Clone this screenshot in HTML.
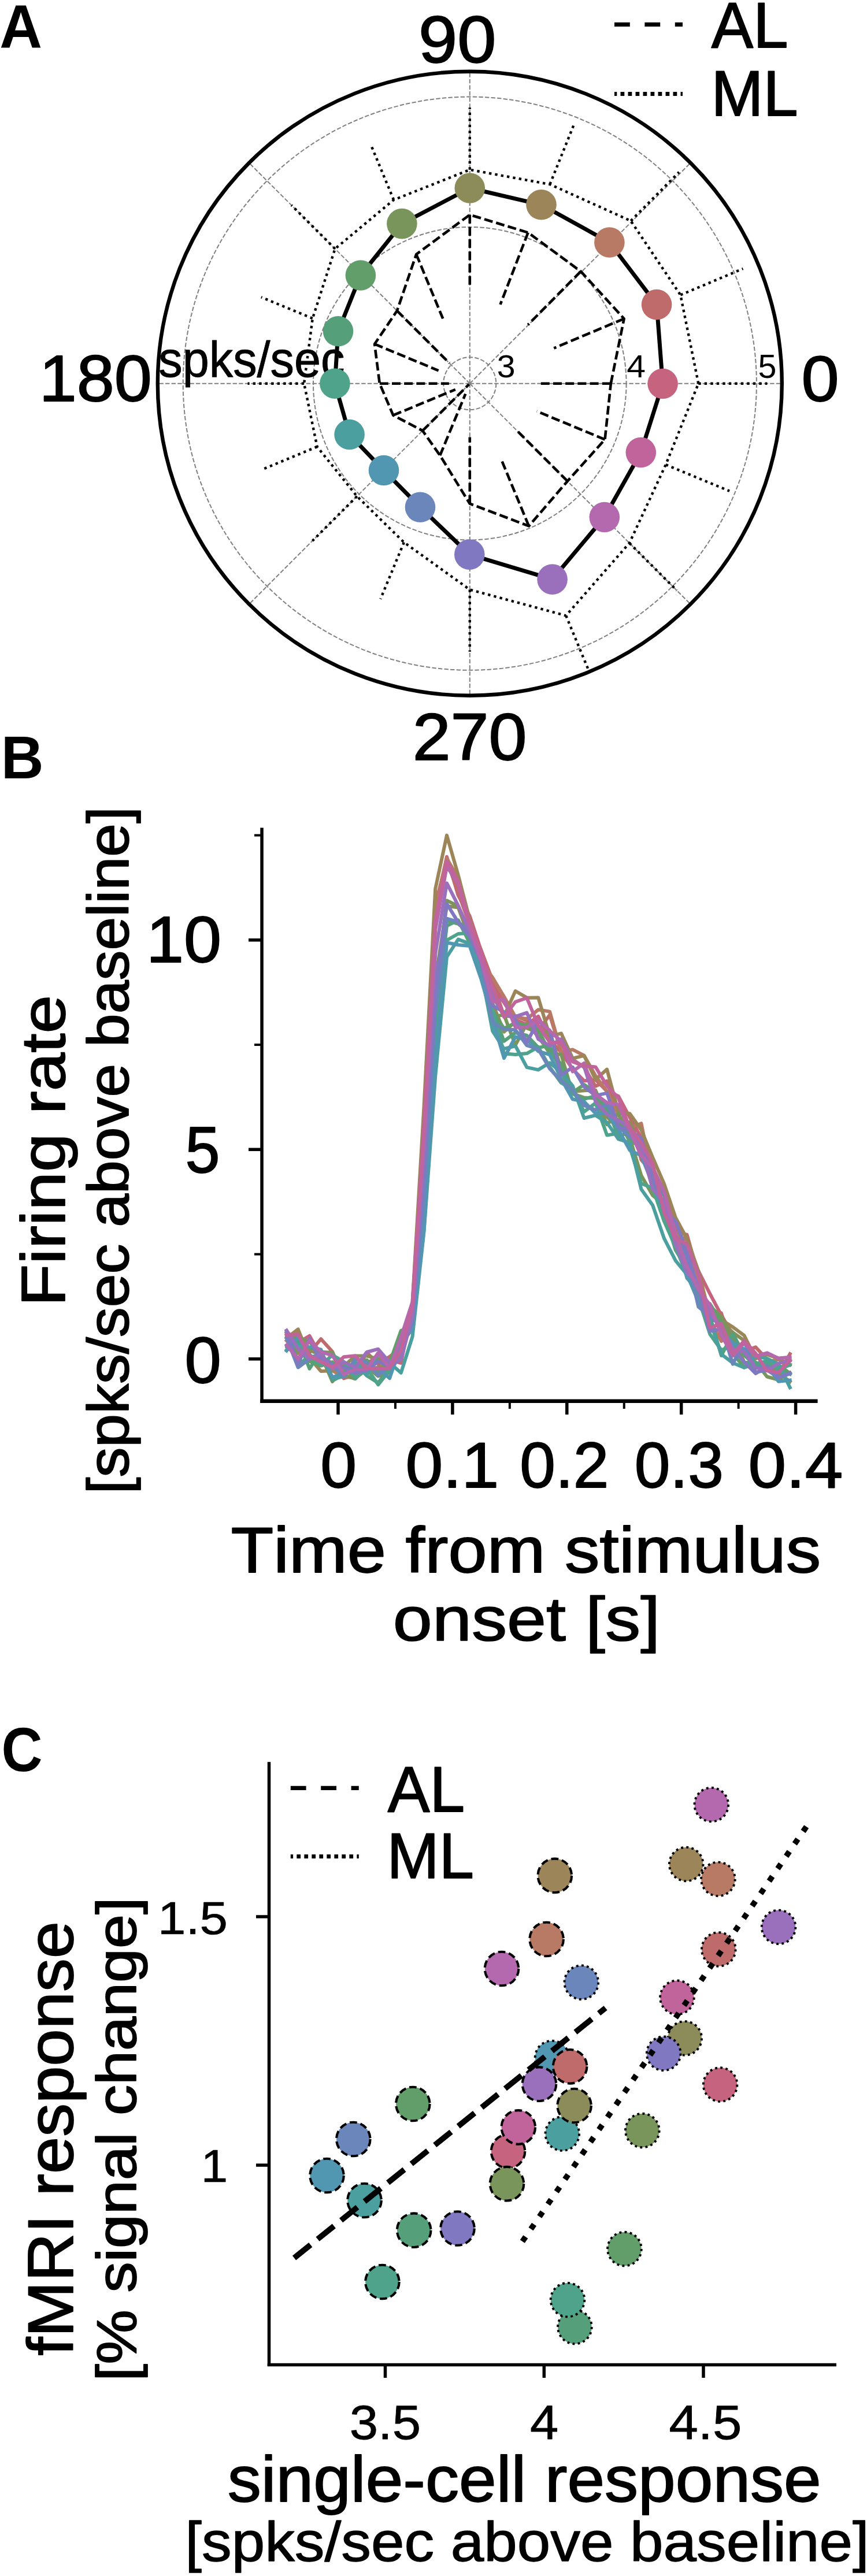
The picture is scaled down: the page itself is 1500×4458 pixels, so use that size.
<!DOCTYPE html>
<html><head><meta charset="utf-8"><style>
html,body{margin:0;padding:0;background:#fff;}
svg{display:block;}
text{font-family:"Liberation Sans",sans-serif;font-kerning:none;}
.t{stroke:#000;stroke-width:1.8px;stroke-linejoin:round;}
</style></head><body>
<svg width="1500" height="4458" viewBox="0 0 1500 4458">
<rect width="1500" height="4458" fill="#fff"/>
<g>
<circle cx="812.8" cy="663.7" r="45.51" stroke="#808080" stroke-width="2" stroke-dasharray="7.4 3.2" fill="none"/>
<circle cx="812.8" cy="663.7" r="270.81" stroke="#808080" stroke-width="2" stroke-dasharray="7.4 3.2" fill="none"/>
<circle cx="812.8" cy="663.7" r="496.11" stroke="#808080" stroke-width="2" stroke-dasharray="7.4 3.2" fill="none"/>
<line x1="812.8" y1="663.7" x2="1352.80" y2="663.70" stroke="#808080" stroke-width="2" stroke-dasharray="7.4 3.2" fill="none"/>
<line x1="812.8" y1="663.7" x2="1194.64" y2="281.86" stroke="#808080" stroke-width="2" stroke-dasharray="7.4 3.2" fill="none"/>
<line x1="812.8" y1="663.7" x2="812.80" y2="123.70" stroke="#808080" stroke-width="2" stroke-dasharray="7.4 3.2" fill="none"/>
<line x1="812.8" y1="663.7" x2="430.96" y2="281.86" stroke="#808080" stroke-width="2" stroke-dasharray="7.4 3.2" fill="none"/>
<line x1="812.8" y1="663.7" x2="272.80" y2="663.70" stroke="#808080" stroke-width="2" stroke-dasharray="7.4 3.2" fill="none"/>
<line x1="812.8" y1="663.7" x2="430.96" y2="1045.54" stroke="#808080" stroke-width="2" stroke-dasharray="7.4 3.2" fill="none"/>
<line x1="812.8" y1="663.7" x2="812.80" y2="1203.70" stroke="#808080" stroke-width="2" stroke-dasharray="7.4 3.2" fill="none"/>
<line x1="812.8" y1="663.7" x2="1194.64" y2="1045.54" stroke="#808080" stroke-width="2" stroke-dasharray="7.4 3.2" fill="none"/>
</g>
<g font-family="Liberation Sans, sans-serif" fill="#000">
<text stroke="#000" stroke-width="0.94" stroke-linejoin="round" transform="translate(274.29,651.67) scale(0.9531,1)" font-size="86.90" font-weight="normal">spks/sec</text>
<text transform="translate(859.82,653.00) scale(1.0286,1)" font-size="55.57" font-weight="normal" >3</text>
<text transform="translate(1084.15,653.00) scale(1.0727,1)" font-size="54.94" font-weight="normal" >4</text>
<text transform="translate(1311.50,654.00) scale(0.9867,1)" font-size="58.14" font-weight="normal" >5</text>
</g>
<polyline points="1056.80,663.70 1079.68,551.51 1004.83,469.65 913.60,402.47 812.80,371.70 720.19,440.12 686.93,537.83 648.07,595.47 656.80,663.70 680.22,718.62 731.13,745.37 761.25,788.15 812.80,871.70 914.98,910.38 981.80,832.70 1046.54,760.52 1056.80,663.70" stroke="#000" stroke-width="4.6" stroke-dasharray="15 6.2" fill="none" stroke-linejoin="round"/>
<line x1="1056.80" y1="663.70" x2="934.80" y2="663.70" stroke="#000" stroke-width="4.6" stroke-dasharray="15 6.2" fill="none" stroke-linejoin="round"/>
<line x1="1079.68" y1="551.51" x2="958.27" y2="602.55" stroke="#000" stroke-width="4.6" stroke-dasharray="15 6.2" fill="none" stroke-linejoin="round"/>
<line x1="1004.83" y1="469.65" x2="913.39" y2="562.06" stroke="#000" stroke-width="4.6" stroke-dasharray="15 6.2" fill="none" stroke-linejoin="round"/>
<line x1="913.60" y1="402.47" x2="865.54" y2="527.02" stroke="#000" stroke-width="4.6" stroke-dasharray="15 6.2" fill="none" stroke-linejoin="round"/>
<line x1="812.80" y1="371.70" x2="812.80" y2="498.70" stroke="#000" stroke-width="4.6" stroke-dasharray="15 6.2" fill="none" stroke-linejoin="round"/>
<line x1="720.19" y1="440.12" x2="766.30" y2="551.45" stroke="#000" stroke-width="4.6" stroke-dasharray="15 6.2" fill="none" stroke-linejoin="round"/>
<line x1="686.93" y1="537.83" x2="777.44" y2="628.34" stroke="#000" stroke-width="4.6" stroke-dasharray="15 6.2" fill="none" stroke-linejoin="round"/>
<line x1="648.07" y1="595.47" x2="758.66" y2="641.27" stroke="#000" stroke-width="4.6" stroke-dasharray="15 6.2" fill="none" stroke-linejoin="round"/>
<line x1="656.80" y1="663.70" x2="776.80" y2="663.70" stroke="#000" stroke-width="4.6" stroke-dasharray="15 6.2" fill="none" stroke-linejoin="round"/>
<line x1="680.22" y1="718.62" x2="787.86" y2="674.03" stroke="#000" stroke-width="4.6" stroke-dasharray="15 6.2" fill="none" stroke-linejoin="round"/>
<line x1="731.13" y1="745.37" x2="811.39" y2="665.11" stroke="#000" stroke-width="4.6" stroke-dasharray="15 6.2" fill="none" stroke-linejoin="round"/>
<line x1="761.25" y1="788.15" x2="805.34" y2="681.72" stroke="#000" stroke-width="4.6" stroke-dasharray="15 6.2" fill="none" stroke-linejoin="round"/>
<line x1="812.80" y1="871.70" x2="812.80" y2="756.50" stroke="#000" stroke-width="4.6" stroke-dasharray="15 6.2" fill="none" stroke-linejoin="round"/>
<line x1="914.98" y1="910.38" x2="866.38" y2="793.04" stroke="#000" stroke-width="4.6" stroke-dasharray="15 6.2" fill="none" stroke-linejoin="round"/>
<line x1="981.80" y1="832.70" x2="894.82" y2="745.72" stroke="#000" stroke-width="4.6" stroke-dasharray="15 6.2" fill="none" stroke-linejoin="round"/>
<line x1="1046.54" y1="760.52" x2="928.75" y2="711.73" stroke="#000" stroke-width="4.6" stroke-dasharray="15 6.2" fill="none" stroke-linejoin="round"/>
<polyline points="1208.30,663.70 1177.30,510.48 1091.34,382.22 951.36,319.01 812.80,293.70 681.16,345.89 579.67,430.57 540.81,551.04 526.10,663.70 548.66,773.11 617.64,858.86 698.95,938.55 812.80,1020.40 979.19,1065.40 1088.93,939.83 1151.86,804.14 1208.30,663.70" stroke="#000" stroke-width="4.4" stroke-dasharray="4.4 6.1" fill="none" stroke-linejoin="round"/>
<line x1="1208.30" y1="663.70" x2="1327.30" y2="663.70" stroke="#000" stroke-width="4.4" stroke-dasharray="4.4 6.1" fill="none" stroke-linejoin="round"/>
<line x1="1177.30" y1="510.48" x2="1285.44" y2="465.02" stroke="#000" stroke-width="4.4" stroke-dasharray="4.4 6.1" fill="none" stroke-linejoin="round"/>
<line x1="1091.34" y1="382.22" x2="1174.77" y2="297.92" stroke="#000" stroke-width="4.4" stroke-dasharray="4.4 6.1" fill="none" stroke-linejoin="round"/>
<line x1="951.36" y1="319.01" x2="992.47" y2="216.76" stroke="#000" stroke-width="4.4" stroke-dasharray="4.4 6.1" fill="none" stroke-linejoin="round"/>
<line x1="812.80" y1="293.70" x2="812.80" y2="186.20" stroke="#000" stroke-width="4.4" stroke-dasharray="4.4 6.1" fill="none" stroke-linejoin="round"/>
<line x1="681.16" y1="345.89" x2="641.36" y2="249.80" stroke="#000" stroke-width="4.4" stroke-dasharray="4.4 6.1" fill="none" stroke-linejoin="round"/>
<line x1="579.67" y1="430.57" x2="504.22" y2="355.12" stroke="#000" stroke-width="4.4" stroke-dasharray="4.4 6.1" fill="none" stroke-linejoin="round"/>
<line x1="540.81" y1="551.04" x2="451.93" y2="514.22" stroke="#000" stroke-width="4.4" stroke-dasharray="4.4 6.1" fill="none" stroke-linejoin="round"/>
<line x1="526.10" y1="663.70" x2="428.50" y2="663.70" stroke="#000" stroke-width="4.4" stroke-dasharray="4.4 6.1" fill="none" stroke-linejoin="round"/>
<line x1="548.66" y1="773.11" x2="452.67" y2="812.87" stroke="#000" stroke-width="4.4" stroke-dasharray="4.4 6.1" fill="none" stroke-linejoin="round"/>
<line x1="617.64" y1="858.86" x2="540.56" y2="935.94" stroke="#000" stroke-width="4.4" stroke-dasharray="4.4 6.1" fill="none" stroke-linejoin="round"/>
<line x1="698.95" y1="938.55" x2="658.31" y2="1036.67" stroke="#000" stroke-width="4.4" stroke-dasharray="4.4 6.1" fill="none" stroke-linejoin="round"/>
<line x1="812.80" y1="1020.40" x2="812.80" y2="1127.70" stroke="#000" stroke-width="4.4" stroke-dasharray="4.4 6.1" fill="none" stroke-linejoin="round"/>
<line x1="979.19" y1="1065.40" x2="1017.15" y2="1157.05" stroke="#000" stroke-width="4.4" stroke-dasharray="4.4 6.1" fill="none" stroke-linejoin="round"/>
<line x1="1088.93" y1="939.83" x2="1171.02" y2="1021.92" stroke="#000" stroke-width="4.4" stroke-dasharray="4.4 6.1" fill="none" stroke-linejoin="round"/>
<line x1="1151.86" y1="804.14" x2="1262.08" y2="849.80" stroke="#000" stroke-width="4.4" stroke-dasharray="4.4 6.1" fill="none" stroke-linejoin="round"/>
<polyline points="1146.6,664 1136.1,527.1 1054.4,419.5 936.5,354.3 812.8,325.5 695.4,387.1 623.9,476.5 585,573.3 579.4,663.7 604.6,752 664,814 727,877.8 812.3,959.6 955.6,1002.6 1045.8,895 1108.8,783 1146.6,664" stroke="#000" stroke-width="7" fill="none" stroke-linejoin="round"/>
<circle cx="1146.60" cy="664.00" r="26.3" fill="#c6637f"/>
<circle cx="1136.10" cy="527.10" r="26.3" fill="#bf6b6b"/>
<circle cx="1054.40" cy="419.50" r="26.3" fill="#b87a64"/>
<circle cx="936.50" cy="354.30" r="26.3" fill="#9c8558"/>
<circle cx="812.80" cy="325.50" r="26.3" fill="#8c8c5a"/>
<circle cx="695.40" cy="387.10" r="26.3" fill="#7a955c"/>
<circle cx="623.90" cy="476.50" r="26.3" fill="#619e6a"/>
<circle cx="585.00" cy="573.30" r="26.3" fill="#55a07a"/>
<circle cx="579.40" cy="663.70" r="26.3" fill="#4ea38a"/>
<circle cx="604.60" cy="752.00" r="26.3" fill="#4c9f9f"/>
<circle cx="664.00" cy="814.00" r="26.3" fill="#5297b2"/>
<circle cx="727.00" cy="877.80" r="26.3" fill="#6a86bb"/>
<circle cx="812.30" cy="959.60" r="26.3" fill="#8078c0"/>
<circle cx="955.60" cy="1002.60" r="26.3" fill="#9a70bd"/>
<circle cx="1045.80" cy="895.00" r="26.3" fill="#b468ad"/>
<circle cx="1108.80" cy="783.00" r="26.3" fill="#c0649b"/>
<circle cx="812.8" cy="663.7" r="540.0" stroke="#000" stroke-width="6.4" fill="none"/>
<line x1="1063" y1="42.3" x2="1181" y2="42.3" stroke="#000" stroke-width="7.3" stroke-dasharray="26.8 25.6"/>
<line x1="1063" y1="162.5" x2="1181" y2="162.5" stroke="#000" stroke-width="6.9" stroke-dasharray="6.75 6.25" stroke-dashoffset="2.45"/>
<line x1="453.05" y1="1432.4" x2="453.05" y2="2427.95" stroke="#000" stroke-width="5.5"/>
<line x1="450.3" y1="2424.7" x2="1414.6" y2="2424.7" stroke="#000" stroke-width="6.5"/>
<line x1="430" y1="2351.80" x2="451" y2="2351.80" stroke="#000" stroke-width="5.5"/>
<line x1="430" y1="1989.30" x2="451" y2="1989.30" stroke="#000" stroke-width="5.5"/>
<line x1="430" y1="1626.80" x2="451" y2="1626.80" stroke="#000" stroke-width="5.5"/>
<line x1="440" y1="2170.55" x2="451" y2="2170.55" stroke="#000" stroke-width="4"/>
<line x1="440" y1="1808.05" x2="451" y2="1808.05" stroke="#000" stroke-width="4"/>
<line x1="440" y1="1445.55" x2="451" y2="1445.55" stroke="#000" stroke-width="4"/>
<line x1="585.00" y1="2424.7" x2="585.00" y2="2448" stroke="#000" stroke-width="5.5"/>
<line x1="782.90" y1="2424.7" x2="782.90" y2="2448" stroke="#000" stroke-width="5.5"/>
<line x1="980.80" y1="2424.7" x2="980.80" y2="2448" stroke="#000" stroke-width="5.5"/>
<line x1="1178.70" y1="2424.7" x2="1178.70" y2="2448" stroke="#000" stroke-width="5.5"/>
<line x1="1376.60" y1="2424.7" x2="1376.60" y2="2448" stroke="#000" stroke-width="5.5"/>
<line x1="683.95" y1="2424.7" x2="683.95" y2="2438" stroke="#000" stroke-width="4"/>
<line x1="881.85" y1="2424.7" x2="881.85" y2="2438" stroke="#000" stroke-width="4"/>
<line x1="1079.75" y1="2424.7" x2="1079.75" y2="2438" stroke="#000" stroke-width="4"/>
<line x1="1277.65" y1="2424.7" x2="1277.65" y2="2438" stroke="#000" stroke-width="4"/>
<polyline points="495.9,2309.2 515.7,2323.6 535.5,2311.7 555.3,2347.4 575.1,2359.6 594.9,2362.1 614.7,2379.9 634.5,2357.7 654.3,2351.1 674.1,2353.8 693.8,2358.9 713.6,2259.7 733.4,1949.5 753.2,1572.6 773.0,1482.7 792.8,1549.9 812.6,1585.0 832.4,1645.1 852.2,1702.9 872.0,1735.2 891.7,1765.1 911.5,1773.0 931.3,1759.0 951.1,1799.5 970.9,1821.3 990.7,1850.1 1010.5,1870.5 1030.3,1868.5 1050.1,1888.3 1069.9,1897.0 1089.6,1933.8 1109.4,1968.8 1129.2,2027.4 1149.0,2059.0 1168.8,2123.9 1188.6,2179.2 1208.4,2199.5 1228.2,2238.8 1248.0,2276.1 1267.8,2309.8 1287.5,2343.5 1307.3,2361.8 1327.1,2369.8 1346.9,2380.3 1366.7,2354.2" stroke="#c6637f" stroke-width="6" fill="none" stroke-linejoin="round" stroke-linecap="square"/>
<polyline points="495.9,2311.3 515.7,2305.8 535.5,2340.9 555.3,2317.2 575.1,2339.2 594.9,2385.5 614.7,2378.4 634.5,2340.6 654.3,2360.9 674.1,2347.8 693.8,2332.8 713.6,2262.4 733.4,1936.6 753.2,1565.5 773.0,1488.7 792.8,1545.3 812.6,1600.5 832.4,1644.2 852.2,1696.8 872.0,1758.9 891.7,1758.1 911.5,1766.1 931.3,1782.9 951.1,1756.5 970.9,1819.9 990.7,1833.2 1010.5,1847.1 1030.3,1879.7 1050.1,1870.8 1069.9,1926.9 1089.6,1927.8 1109.4,2007.1 1129.2,2030.4 1149.0,2087.3 1168.8,2132.4 1188.6,2136.7 1208.4,2207.2 1228.2,2282.5 1248.0,2272.5 1267.8,2338.5 1287.5,2338.7 1307.3,2331.4 1327.1,2352.5 1346.9,2378.9 1366.7,2343.1" stroke="#bf6b6b" stroke-width="6" fill="none" stroke-linejoin="round" stroke-linecap="square"/>
<polyline points="495.9,2320.2 515.7,2341.9 535.5,2320.0 555.3,2355.7 575.1,2372.0 594.9,2382.8 614.7,2384.4 634.5,2354.7 654.3,2376.0 674.1,2359.8 693.8,2335.5 713.6,2256.9 733.4,1937.3 753.2,1579.3 773.0,1485.6 792.8,1520.0 812.6,1605.3 832.4,1664.4 852.2,1691.8 872.0,1724.8 891.7,1760.0 911.5,1763.3 931.3,1747.3 951.1,1750.6 970.9,1820.9 990.7,1816.4 1010.5,1826.6 1030.3,1861.8 1050.1,1889.3 1069.9,1929.8 1089.6,1951.7 1109.4,1944.2 1129.2,2040.7 1149.0,2056.2 1168.8,2134.0 1188.6,2146.7 1208.4,2217.3 1228.2,2283.7 1248.0,2321.0 1267.8,2309.1 1287.5,2357.1 1307.3,2361.9 1327.1,2356.9 1346.9,2352.5 1366.7,2361.5" stroke="#b87a64" stroke-width="6" fill="none" stroke-linejoin="round" stroke-linecap="square"/>
<polyline points="495.9,2315.9 515.7,2300.3 535.5,2349.9 555.3,2373.0 575.1,2372.0 594.9,2366.7 614.7,2384.5 634.5,2370.7 654.3,2366.2 674.1,2359.9 693.8,2353.5 713.6,2252.8 733.4,1916.9 753.2,1538.2 773.0,1445.6 792.8,1514.7 812.6,1591.3 832.4,1661.2 852.2,1723.4 872.0,1758.4 891.7,1715.0 911.5,1726.7 931.3,1726.6 951.1,1793.4 970.9,1788.3 990.7,1831.6 1010.5,1826.8 1030.3,1868.3 1050.1,1850.6 1069.9,1924.4 1089.6,1927.2 1109.4,1955.3 1129.2,2003.1 1149.0,2048.8 1168.8,2107.3 1188.6,2143.7 1208.4,2199.6 1228.2,2277.8 1248.0,2284.2 1267.8,2296.5 1287.5,2311.1 1307.3,2351.2 1327.1,2344.1 1346.9,2350.9 1366.7,2361.8" stroke="#9c8558" stroke-width="6" fill="none" stroke-linejoin="round" stroke-linecap="square"/>
<polyline points="495.9,2306.2 515.7,2340.8 535.5,2336.4 555.3,2345.2 575.1,2391.0 594.9,2364.3 614.7,2346.4 634.5,2346.6 654.3,2351.6 674.1,2369.8 693.8,2313.8 713.6,2277.8 733.4,2030.0 753.2,1696.0 773.0,1568.1 792.8,1570.6 812.6,1624.2 832.4,1667.9 852.2,1736.4 872.0,1785.7 891.7,1768.0 911.5,1779.2 931.3,1787.2 951.1,1784.7 970.9,1850.6 990.7,1889.3 1010.5,1887.2 1030.3,1886.6 1050.1,1932.6 1069.9,1953.2 1089.6,1941.5 1109.4,1991.6 1129.2,2046.6 1149.0,2065.0 1168.8,2146.7 1188.6,2175.2 1208.4,2249.2 1228.2,2283.7 1248.0,2287.6 1267.8,2305.8 1287.5,2320.0 1307.3,2361.0 1327.1,2362.3 1346.9,2376.4 1366.7,2391.0" stroke="#8c8c5a" stroke-width="6" fill="none" stroke-linejoin="round" stroke-linecap="square"/>
<polyline points="495.9,2312.7 515.7,2314.1 535.5,2322.5 555.3,2339.8 575.1,2340.7 594.9,2379.5 614.7,2386.3 634.5,2365.3 654.3,2381.6 674.1,2375.6 693.8,2342.1 713.6,2279.9 733.4,2039.9 753.2,1722.2 773.0,1558.4 792.8,1568.0 812.6,1615.4 832.4,1682.2 852.2,1759.2 872.0,1756.4 891.7,1808.6 911.5,1771.6 931.3,1793.8 951.1,1822.8 970.9,1825.0 990.7,1892.5 1010.5,1899.5 1030.3,1900.7 1050.1,1946.1 1069.9,1927.2 1089.6,1969.2 1109.4,2034.2 1129.2,2068.7 1149.0,2084.9 1168.8,2142.7 1188.6,2179.7 1208.4,2230.7 1228.2,2260.7 1248.0,2278.5 1267.8,2320.2 1287.5,2358.4 1307.3,2357.4 1327.1,2382.5 1346.9,2387.9 1366.7,2375.7" stroke="#7a955c" stroke-width="6" fill="none" stroke-linejoin="round" stroke-linecap="square"/>
<polyline points="495.9,2303.9 515.7,2355.5 535.5,2355.7 555.3,2363.6 575.1,2357.1 594.9,2370.7 614.7,2366.4 634.5,2353.5 654.3,2375.7 674.1,2358.4 693.8,2302.8 713.6,2295.5 733.4,2055.1 753.2,1744.9 773.0,1593.4 792.8,1598.8 812.6,1614.8 832.4,1665.8 852.2,1750.6 872.0,1779.7 891.7,1770.4 911.5,1774.9 931.3,1781.3 951.1,1822.4 970.9,1841.0 990.7,1890.7 1010.5,1877.0 1030.3,1890.5 1050.1,1921.1 1069.9,1938.8 1089.6,1975.7 1109.4,1982.5 1129.2,2025.4 1149.0,2067.2 1168.8,2142.1 1188.6,2174.9 1208.4,2249.1 1228.2,2256.4 1248.0,2287.8 1267.8,2341.9 1287.5,2366.7 1307.3,2360.7 1327.1,2366.4 1346.9,2362.2 1366.7,2376.6" stroke="#619e6a" stroke-width="6" fill="none" stroke-linejoin="round" stroke-linecap="square"/>
<polyline points="495.9,2336.6 515.7,2319.0 535.5,2368.6 555.3,2337.7 575.1,2389.4 594.9,2379.3 614.7,2359.4 634.5,2380.7 654.3,2393.1 674.1,2367.9 693.8,2320.4 713.6,2287.6 733.4,2079.9 753.2,1771.3 773.0,1602.2 792.8,1592.4 812.6,1632.2 832.4,1685.8 852.2,1750.6 872.0,1801.8 891.7,1787.0 911.5,1792.0 931.3,1812.9 951.1,1809.6 970.9,1854.3 990.7,1892.7 1010.5,1902.2 1030.3,1896.3 1050.1,1915.2 1069.9,1968.0 1089.6,1957.4 1109.4,1983.4 1129.2,2052.6 1149.0,2099.2 1168.8,2163.3 1188.6,2194.8 1208.4,2244.5 1228.2,2278.1 1248.0,2346.0 1267.8,2307.6 1287.5,2344.8 1307.3,2364.3 1327.1,2356.0 1346.9,2370.7 1366.7,2378.1" stroke="#55a07a" stroke-width="6" fill="none" stroke-linejoin="round" stroke-linecap="square"/>
<polyline points="495.9,2307.4 515.7,2365.6 535.5,2343.9 555.3,2362.7 575.1,2345.0 594.9,2356.6 614.7,2385.4 634.5,2367.7 654.3,2396.3 674.1,2371.3 693.8,2314.9 713.6,2292.3 733.4,2104.2 753.2,1815.1 773.0,1627.1 792.8,1616.0 812.6,1614.7 832.4,1691.5 852.2,1746.0 872.0,1823.2 891.7,1824.9 911.5,1823.1 931.3,1812.0 951.1,1846.8 970.9,1873.9 990.7,1885.1 1010.5,1924.1 1030.3,1908.8 1050.1,1964.6 1069.9,1961.2 1089.6,1985.4 1109.4,2048.1 1129.2,2056.3 1149.0,2113.4 1168.8,2158.4 1188.6,2206.9 1208.4,2246.9 1228.2,2308.7 1248.0,2336.4 1267.8,2329.4 1287.5,2339.9 1307.3,2359.8 1327.1,2355.2 1346.9,2370.2 1366.7,2362.2" stroke="#4ea38a" stroke-width="6" fill="none" stroke-linejoin="round" stroke-linecap="square"/>
<polyline points="495.9,2330.3 515.7,2327.2 535.5,2331.2 555.3,2335.5 575.1,2384.9 594.9,2382.8 614.7,2356.1 634.5,2380.2 654.3,2342.9 674.1,2358.4 693.8,2375.8 713.6,2313.0 733.4,2132.7 753.2,1862.8 773.0,1655.9 792.8,1625.6 812.6,1633.1 832.4,1681.1 852.2,1784.3 872.0,1815.1 891.7,1810.0 911.5,1847.1 931.3,1851.4 951.1,1839.2 970.9,1855.4 990.7,1879.1 1010.5,1935.0 1030.3,1930.1 1050.1,1942.6 1069.9,1971.4 1089.6,1977.5 1109.4,2057.9 1129.2,2085.8 1149.0,2143.2 1168.8,2181.7 1188.6,2205.8 1208.4,2252.9 1228.2,2285.9 1248.0,2343.7 1267.8,2358.6 1287.5,2366.7 1307.3,2347.3 1327.1,2351.0 1346.9,2360.8 1366.7,2401.2" stroke="#4c9f9f" stroke-width="6" fill="none" stroke-linejoin="round" stroke-linecap="square"/>
<polyline points="495.9,2337.5 515.7,2313.6 535.5,2349.6 555.3,2343.0 575.1,2383.5 594.9,2376.1 614.7,2374.9 634.5,2370.7 654.3,2367.5 674.1,2385.2 693.8,2326.8 713.6,2299.2 733.4,2129.7 753.2,1843.3 773.0,1631.3 792.8,1635.3 812.6,1637.0 832.4,1694.2 852.2,1764.2 872.0,1831.2 891.7,1794.3 911.5,1799.4 931.3,1819.3 951.1,1825.1 970.9,1867.0 990.7,1902.4 1010.5,1906.3 1030.3,1926.7 1050.1,1926.7 1069.9,1954.7 1089.6,1990.6 1109.4,1999.9 1129.2,2049.5 1149.0,2096.2 1168.8,2140.2 1188.6,2212.1 1208.4,2234.2 1228.2,2264.9 1248.0,2305.6 1267.8,2323.4 1287.5,2334.8 1307.3,2367.3 1327.1,2363.0 1346.9,2390.7 1366.7,2388.5" stroke="#5297b2" stroke-width="6" fill="none" stroke-linejoin="round" stroke-linecap="square"/>
<polyline points="495.9,2315.8 515.7,2366.5 535.5,2351.8 555.3,2346.6 575.1,2362.1 594.9,2382.9 614.7,2351.3 634.5,2357.9 654.3,2380.1 674.1,2363.0 693.8,2332.3 713.6,2290.3 733.4,2073.4 753.2,1754.7 773.0,1589.7 792.8,1595.6 812.6,1613.2 832.4,1665.9 852.2,1769.3 872.0,1781.2 891.7,1782.3 911.5,1809.1 931.3,1815.5 951.1,1849.5 970.9,1870.4 990.7,1886.1 1010.5,1912.9 1030.3,1921.0 1050.1,1911.0 1069.9,1949.5 1089.6,1967.5 1109.4,1980.4 1129.2,2048.3 1149.0,2068.7 1168.8,2139.0 1188.6,2176.1 1208.4,2261.7 1228.2,2277.4 1248.0,2295.4 1267.8,2360.7 1287.5,2321.0 1307.3,2375.0 1327.1,2370.9 1346.9,2384.1 1366.7,2377.1" stroke="#6a86bb" stroke-width="6" fill="none" stroke-linejoin="round" stroke-linecap="square"/>
<polyline points="495.9,2306.8 515.7,2360.4 535.5,2316.4 555.3,2356.6 575.1,2364.7 594.9,2366.0 614.7,2376.3 634.5,2371.7 654.3,2356.3 674.1,2364.4 693.8,2351.9 713.6,2275.4 733.4,2032.0 753.2,1712.8 773.0,1564.2 792.8,1596.2 812.6,1621.0 832.4,1664.2 852.2,1740.3 872.0,1751.3 891.7,1765.3 911.5,1804.0 931.3,1766.4 951.1,1783.4 970.9,1860.7 990.7,1846.8 1010.5,1880.6 1030.3,1896.1 1050.1,1891.6 1069.9,1949.9 1089.6,1955.8 1109.4,1970.5 1129.2,2032.4 1149.0,2092.9 1168.8,2113.6 1188.6,2166.2 1208.4,2231.2 1228.2,2303.9 1248.0,2299.9 1267.8,2332.6 1287.5,2357.2 1307.3,2376.9 1327.1,2365.0 1346.9,2383.3 1366.7,2376.3" stroke="#8078c0" stroke-width="6" fill="none" stroke-linejoin="round" stroke-linecap="square"/>
<polyline points="495.9,2302.4 515.7,2333.9 535.5,2351.8 555.3,2344.4 575.1,2368.7 594.9,2357.1 614.7,2366.5 634.5,2340.0 654.3,2334.7 674.1,2357.7 693.8,2352.4 713.6,2277.6 733.4,1991.6 753.2,1650.6 773.0,1528.4 792.8,1567.4 812.6,1612.4 832.4,1660.6 852.2,1723.0 872.0,1755.6 891.7,1759.3 911.5,1752.6 931.3,1798.4 951.1,1809.6 970.9,1798.1 990.7,1835.7 1010.5,1845.9 1030.3,1906.4 1050.1,1928.3 1069.9,1938.8 1089.6,1951.2 1109.4,1985.3 1129.2,2057.8 1149.0,2080.1 1168.8,2153.5 1188.6,2202.6 1208.4,2222.6 1228.2,2272.8 1248.0,2296.0 1267.8,2334.5 1287.5,2339.3 1307.3,2366.8 1327.1,2371.3 1346.9,2359.4 1366.7,2354.8" stroke="#9a70bd" stroke-width="6" fill="none" stroke-linejoin="round" stroke-linecap="square"/>
<polyline points="495.9,2327.8 515.7,2351.9 535.5,2319.5 555.3,2339.5 575.1,2345.8 594.9,2378.3 614.7,2369.7 634.5,2369.5 654.3,2341.3 674.1,2367.9 693.8,2314.0 713.6,2253.0 733.4,1967.6 753.2,1609.0 773.0,1499.1 792.8,1529.6 812.6,1602.8 832.4,1662.8 852.2,1733.7 872.0,1729.5 891.7,1777.7 911.5,1777.5 931.3,1765.2 951.1,1784.1 970.9,1802.0 990.7,1854.4 1010.5,1839.8 1030.3,1894.0 1050.1,1908.3 1069.9,1911.6 1089.6,1955.7 1109.4,2000.5 1129.2,2020.1 1149.0,2062.2 1168.8,2136.8 1188.6,2192.0 1208.4,2231.5 1228.2,2258.3 1248.0,2310.4 1267.8,2346.4 1287.5,2323.7 1307.3,2347.2 1327.1,2341.3 1346.9,2350.6 1366.7,2348.8" stroke="#b468ad" stroke-width="6" fill="none" stroke-linejoin="round" stroke-linecap="square"/>
<polyline points="495.9,2310.2 515.7,2309.3 535.5,2346.2 555.3,2356.8 575.1,2366.3 594.9,2348.3 614.7,2346.3 634.5,2369.1 654.3,2368.8 674.1,2367.4 693.8,2336.8 713.6,2259.4 733.4,1950.7 753.2,1592.9 773.0,1490.3 792.8,1525.4 812.6,1597.1 832.4,1649.0 852.2,1708.5 872.0,1759.8 891.7,1733.8 911.5,1727.0 931.3,1774.8 951.1,1803.6 970.9,1805.3 990.7,1837.4 1010.5,1844.7 1030.3,1846.4 1050.1,1879.1 1069.9,1900.3 1089.6,1952.2 1109.4,1977.4 1129.2,2013.8 1149.0,2098.5 1168.8,2143.9 1188.6,2153.0 1208.4,2204.8 1228.2,2297.6 1248.0,2290.6 1267.8,2343.4 1287.5,2320.3 1307.3,2342.1 1327.1,2372.3 1346.9,2375.3 1366.7,2354.7" stroke="#c0649b" stroke-width="6" fill="none" stroke-linejoin="round" stroke-linecap="square"/>
<line x1="465.5" y1="3049.3" x2="465.5" y2="4095" stroke="#000" stroke-width="5.5"/>
<line x1="462.75" y1="4092.5" x2="1447" y2="4092.5" stroke="#000" stroke-width="5.5"/>
<line x1="443" y1="3317" x2="464" y2="3317" stroke="#000" stroke-width="5.5"/>
<line x1="443" y1="3747" x2="464" y2="3747" stroke="#000" stroke-width="5.5"/>
<line x1="666.5" y1="4094" x2="666.5" y2="4115" stroke="#000" stroke-width="5.5"/>
<line x1="941.3" y1="4094" x2="941.3" y2="4115" stroke="#000" stroke-width="5.5"/>
<line x1="1217" y1="4094" x2="1217" y2="4115" stroke="#000" stroke-width="5.5"/>
<circle cx="1246.1" cy="3607.6" r="29.3" fill="#c6637f" stroke="#000" stroke-width="3.9" stroke-dasharray="3.9 5.3"/>
<circle cx="1243.3" cy="3373.5" r="29.3" fill="#bf6b6b" stroke="#000" stroke-width="3.9" stroke-dasharray="3.9 5.3"/>
<circle cx="1242.4" cy="3251.9" r="29.3" fill="#b87a64" stroke="#000" stroke-width="3.9" stroke-dasharray="3.9 5.3"/>
<circle cx="1187.2" cy="3226.1" r="29.3" fill="#9c8558" stroke="#000" stroke-width="3.9" stroke-dasharray="3.9 5.3"/>
<circle cx="1184.7" cy="3527.4" r="29.3" fill="#8c8c5a" stroke="#000" stroke-width="3.9" stroke-dasharray="3.9 5.3"/>
<circle cx="1111.3" cy="3687" r="29.3" fill="#7a955c" stroke="#000" stroke-width="3.9" stroke-dasharray="3.9 5.3"/>
<circle cx="1080.4" cy="3892" r="29.3" fill="#619e6a" stroke="#000" stroke-width="3.9" stroke-dasharray="3.9 5.3"/>
<circle cx="994.4" cy="4027" r="29.3" fill="#55a07a" stroke="#000" stroke-width="3.9" stroke-dasharray="3.9 5.3"/>
<circle cx="982" cy="3980.1" r="29.3" fill="#4ea38a" stroke="#000" stroke-width="3.9" stroke-dasharray="3.9 5.3"/>
<circle cx="972.8" cy="3692.6" r="29.3" fill="#4c9f9f" stroke="#000" stroke-width="3.9" stroke-dasharray="3.9 5.3"/>
<circle cx="955" cy="3561" r="29.3" fill="#5297b2" stroke="#000" stroke-width="3.9" stroke-dasharray="3.9 5.3"/>
<circle cx="1005.8" cy="3430.7" r="29.3" fill="#6a86bb" stroke="#000" stroke-width="3.9" stroke-dasharray="3.9 5.3"/>
<circle cx="1148.2" cy="3553.8" r="29.3" fill="#8078c0" stroke="#000" stroke-width="3.9" stroke-dasharray="3.9 5.3"/>
<circle cx="1347.1" cy="3334.9" r="29.3" fill="#9a70bd" stroke="#000" stroke-width="3.9" stroke-dasharray="3.9 5.3"/>
<circle cx="1230.8" cy="3123.1" r="29.3" fill="#b468ad" stroke="#000" stroke-width="3.9" stroke-dasharray="3.9 5.3"/>
<circle cx="1171.4" cy="3456.8" r="29.3" fill="#c0649b" stroke="#000" stroke-width="3.9" stroke-dasharray="3.9 5.3"/>
<circle cx="879" cy="3723" r="29.3" fill="#c6637f" stroke="#000" stroke-width="4.1" stroke-dasharray="12.6 6.2"/>
<circle cx="986.1" cy="3576.3" r="29.3" fill="#bf6b6b" stroke="#000" stroke-width="4.1" stroke-dasharray="12.6 6.2"/>
<circle cx="945.6" cy="3356" r="29.3" fill="#b87a64" stroke="#000" stroke-width="4.1" stroke-dasharray="12.6 6.2"/>
<circle cx="959.8" cy="3245.9" r="29.3" fill="#9c8558" stroke="#000" stroke-width="4.1" stroke-dasharray="12.6 6.2"/>
<circle cx="993.6" cy="3644" r="29.3" fill="#8c8c5a" stroke="#000" stroke-width="4.1" stroke-dasharray="12.6 6.2"/>
<circle cx="877" cy="3779.2" r="29.3" fill="#7a955c" stroke="#000" stroke-width="4.1" stroke-dasharray="12.6 6.2"/>
<circle cx="714.3" cy="3641" r="29.3" fill="#619e6a" stroke="#000" stroke-width="4.1" stroke-dasharray="12.6 6.2"/>
<circle cx="716.2" cy="3859.7" r="29.3" fill="#55a07a" stroke="#000" stroke-width="4.1" stroke-dasharray="12.6 6.2"/>
<circle cx="661.4" cy="3949" r="29.3" fill="#4ea38a" stroke="#000" stroke-width="4.1" stroke-dasharray="12.6 6.2"/>
<circle cx="630.5" cy="3808" r="29.3" fill="#4c9f9f" stroke="#000" stroke-width="4.1" stroke-dasharray="12.6 6.2"/>
<circle cx="565.5" cy="3765" r="29.3" fill="#5297b2" stroke="#000" stroke-width="4.1" stroke-dasharray="12.6 6.2"/>
<circle cx="611.3" cy="3702" r="29.3" fill="#6a86bb" stroke="#000" stroke-width="4.1" stroke-dasharray="12.6 6.2"/>
<circle cx="791.5" cy="3856.5" r="29.3" fill="#8078c0" stroke="#000" stroke-width="4.1" stroke-dasharray="12.6 6.2"/>
<circle cx="933" cy="3606.7" r="29.3" fill="#9a70bd" stroke="#000" stroke-width="4.1" stroke-dasharray="12.6 6.2"/>
<circle cx="868" cy="3407" r="29.3" fill="#b468ad" stroke="#000" stroke-width="4.1" stroke-dasharray="12.6 6.2"/>
<circle cx="896.8" cy="3681.4" r="29.3" fill="#c0649b" stroke="#000" stroke-width="4.1" stroke-dasharray="12.6 6.2"/>
<line x1="509" y1="3907.6" x2="1047.6" y2="3475" stroke="#000" stroke-width="9.8" stroke-dasharray="36.3 15.7"/>
<line x1="903.8" y1="3879" x2="1401.5" y2="3152" stroke="#000" stroke-width="9.8" stroke-dasharray="9.8 16.26"/>
<line x1="502.8" y1="3094.4" x2="620.8" y2="3094.4" stroke="#000" stroke-width="7.3" stroke-dasharray="26.8 25.6"/>
<line x1="502.8" y1="3212.7" x2="620.8" y2="3212.7" stroke="#000" stroke-width="6.9" stroke-dasharray="6.75 6.25" stroke-dashoffset="2.45"/>
<g font-family="Liberation Sans, sans-serif" fill="#000">
<text transform="translate(-0.84,83.00) scale(0.9676,1)" font-size="105.53" font-weight="bold" >A</text>
<text transform="translate(1.87,1347.00) scale(0.9899,1)" font-size="103.20" font-weight="bold" >B</text>
<text transform="translate(2.57,3065.20) scale(0.9193,1)" font-size="106.98" font-weight="bold" >C</text>
<text stroke="#000" stroke-width="1.94" stroke-linejoin="round" transform="translate(724.04,108.00) scale(1.0466,1)" font-size="115.43" font-weight="normal" >90</text>
<text stroke="#000" stroke-width="1.83" stroke-linejoin="round" transform="translate(67.69,694.40) scale(1.0419,1)" font-size="112.28" font-weight="normal" >180</text>
<text stroke="#000" stroke-width="1.82" stroke-linejoin="round" transform="translate(1386.42,694.30) scale(1.0447,1)" font-size="112.14" font-weight="normal" >0</text>
<text stroke="#000" stroke-width="1.91" stroke-linejoin="round" transform="translate(713.63,1315.00) scale(1.0358,1)" font-size="114.57" font-weight="normal" >270</text>
<text stroke="#000" stroke-width="1.77" stroke-linejoin="round" transform="translate(1230.79,82.20) scale(0.9830,1)" font-size="110.47" font-weight="normal" >AL</text>
<text stroke="#000" stroke-width="1.81" stroke-linejoin="round" transform="translate(1230.43,200.20) scale(0.9677,1)" font-size="111.78" font-weight="normal" >ML</text>
<text stroke="#000" stroke-width="1.83" stroke-linejoin="round" transform="translate(252.88,1665.00) scale(1.0411,1)" font-size="112.43" font-weight="normal" >10</text>
<text stroke="#000" stroke-width="1.86" stroke-linejoin="round" transform="translate(320.58,2029.00) scale(0.9531,1)" font-size="113.08" font-weight="normal" >5</text>
<text stroke="#000" stroke-width="1.88" stroke-linejoin="round" transform="translate(319.55,2393.00) scale(1.0008,1)" font-size="113.71" font-weight="normal" >0</text>
<text stroke="#000" stroke-width="1.82" stroke-linejoin="round" transform="translate(554.29,2574.00) scale(1.0086,1)" font-size="112.00" font-weight="normal" >0</text>
<text stroke="#000" stroke-width="1.82" stroke-linejoin="round" transform="translate(701.45,2574.00) scale(1.0401,1)" font-size="112.00" font-weight="normal" >0.1</text>
<text stroke="#000" stroke-width="1.82" stroke-linejoin="round" transform="translate(899.37,2574.00) scale(0.9898,1)" font-size="112.00" font-weight="normal" >0.2</text>
<text stroke="#000" stroke-width="1.82" stroke-linejoin="round" transform="translate(1097.67,2574.00) scale(0.9905,1)" font-size="112.00" font-weight="normal" >0.3</text>
<text stroke="#000" stroke-width="1.82" stroke-linejoin="round" transform="translate(1294.39,2574.00) scale(1.0538,1)" font-size="112.00" font-weight="normal" >0.4</text>
<text stroke="#000" stroke-width="1.76" stroke-linejoin="round" transform="translate(399.38,2721.00) scale(1.0950,1)" font-size="110.40" font-weight="normal" >Time from stimulus</text>
<text stroke="#000" stroke-width="1.64" stroke-linejoin="round" transform="translate(679.86,2839.35) scale(1.1459,1)" font-size="106.74" font-weight="normal">onset [s]</text>
<text class="t" transform="translate(112.10,2260.82) rotate(-90) scale(1.1198,1)" font-size="106.95">Firing rate</text>
<text class="t" transform="translate(222.00,2585.40) rotate(-90) scale(1.0452,1)" font-size="99.36">[spks/sec above baseline]</text>
<text stroke="#000" stroke-width="1.79" stroke-linejoin="round" transform="translate(670.79,3134.60) scale(0.9824,1)" font-size="111.05" font-weight="normal" >AL</text>
<text stroke="#000" stroke-width="1.80" stroke-linejoin="round" transform="translate(669.62,3250.00) scale(0.9710,1)" font-size="111.48" font-weight="normal" >ML</text>
<text stroke="#000" stroke-width="0.70" stroke-linejoin="round" transform="translate(272.96,3347.00) scale(1.0896,1)" font-size="79.94" font-weight="normal" >1.5</text>
<text stroke="#000" stroke-width="0.70" stroke-linejoin="round" transform="translate(347.64,3776.00) scale(1.0445,1)" font-size="79.94" font-weight="normal" >1</text>
<text stroke="#000" stroke-width="0.81" stroke-linejoin="round" transform="translate(604.72,4221.00) scale(1.0687,1)" font-size="83.07" font-weight="normal" >3.5</text>
<text stroke="#000" stroke-width="0.85" stroke-linejoin="round" transform="translate(917.07,4221.00) scale(1.0499,1)" font-size="84.30" font-weight="normal" >4</text>
<text stroke="#000" stroke-width="0.85" stroke-linejoin="round" transform="translate(1157.42,4221.00) scale(1.0741,1)" font-size="84.30" font-weight="normal" >4.5</text>
<text stroke="#000" stroke-width="1.78" stroke-linejoin="round" transform="translate(393.67,4329.30) scale(1.0487,1)" font-size="110.82" font-weight="normal" >single-cell response</text>
<text stroke="#000" stroke-width="1.28" stroke-linejoin="round" transform="translate(320.33,4431.79) scale(1.0716,1)" font-size="96.45" font-weight="normal">[spks/sec above baseline]</text>
<text class="t" transform="translate(125.50,4076.64) rotate(-90) scale(1.0458,1)" font-size="110.55">fMRI response</text>
<text class="t" transform="translate(235.00,4120.86) rotate(-90) scale(1.1044,1)" font-size="96.05">[% signal change]</text>
</g>
</svg></body></html>
